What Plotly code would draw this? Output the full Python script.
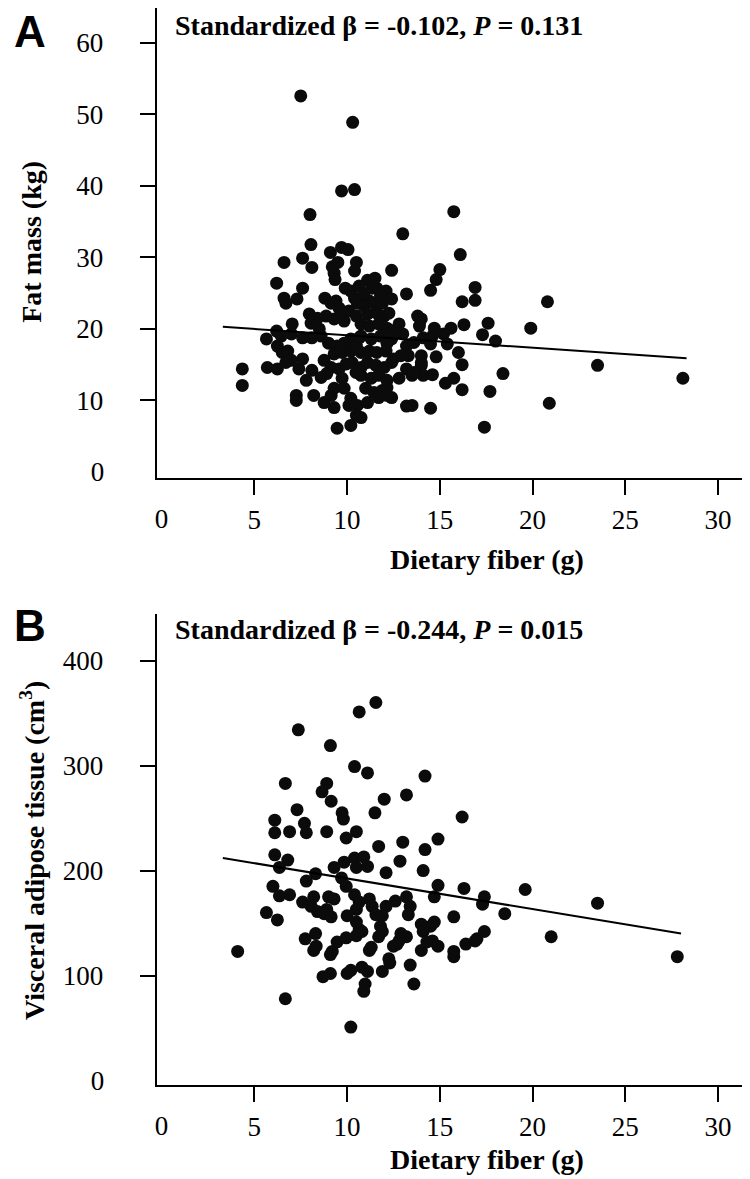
import plotly.graph_objects as go

# ---------------- Panel A data: dietary fiber (g) vs fat mass (kg) ----------------
fiber_a = [
    7.5, 10.3, 9.7, 10.4, 8.0, 15.75, 13.0, 8.05, 9.1, 9.7, 10.05, 16.1, 6.6, 7.6, 8.1,
    9.2, 9.5, 9.3, 9.35, 10.5, 10.4, 12.4, 15.0, 14.8, 6.2, 7.6, 6.6, 7.3, 6.7, 8.8,
    9.4, 9.9, 10.2, 11.1, 11.5, 11.6, 12.1, 12.4, 13.2, 14.5, 16.2, 10.4, 10.8, 11.2, 11.9,
    16.9, 16.9, 20.8, 19.9, 17.6, 17.3, 18.0, 16.3, 15.6, 15.2, 14.7, 13.8, 14.0, 13.9, 14.1,
    14.5, 14.6, 15.4, 16.0, 14.8, 14.0, 14.0, 16.2, 18.4, 23.5, 28.1, 15.75, 15.3, 16.2, 17.7,
    13.5, 14.1, 14.6, 13.5, 14.5, 20.9, 17.4, 12.7, 13.0, 12.4, 13.2, 13.6, 13.3, 14.0, 12.8,
    13.2, 13.6, 12.15, 11.8, 12.4, 13.2, 10.55, 10.75, 9.14, 9.57, 7.96, 8.4, 8.87, 9.3, 9.68,
    9.84, 10.1, 10.5, 10.75, 7.04, 8.06, 8.5, 6.2, 5.65, 6.45, 7.0, 7.6, 8.1, 8.6, 6.24,
    6.5, 6.8, 7.0, 7.6, 6.7, 9.0, 9.46, 9.84, 10.2, 9.3, 9.73, 10.2, 10.5, 10.75, 10.65,
    8.76, 9.14, 9.57, 9.95, 10.27, 10.48, 10.75, 4.35, 4.35, 5.7, 6.24, 7.4, 8.1, 8.6, 8.9,
    7.8, 7.26, 7.26, 8.2, 8.76, 9.14, 9.3, 9.84, 10.2, 10.1, 10.5, 10.2, 9.46, 9.3, 9.73,
    10.55, 10.9, 11.45, 11.1, 11.6, 12.0, 11.2, 11.7, 12.15, 12.5, 10.75, 11.3, 11.8, 12.15, 11.2,
    11.6, 12.1, 12.5, 12.9, 11.1, 11.55, 12.0, 12.4, 10.75, 11.3, 11.7, 12.15, 11.0, 11.45, 11.9,
    11.7, 12.15, 11.1, 10.65, 10.9, 11.35, 11.8, 12.25, 12.8,
]
fat_mass = [
    52.6, 48.9, 39.3, 39.5, 36.0, 36.4, 33.3, 31.8, 30.7, 31.4, 31.1, 30.4, 29.3, 29.9, 28.6,
    28.7, 29.3, 27.8, 26.9, 29.3, 28.1, 28.2, 28.3, 26.9, 26.4, 25.7, 24.3, 24.2, 23.6, 24.3,
    23.9, 25.7, 25.3, 26.8, 27.1, 25.7, 25.3, 24.2, 24.9, 25.4, 23.8, 24.3, 24.2, 23.9, 23.6,
    25.8, 24.0, 23.8, 20.1, 20.8, 19.2, 18.3, 20.6, 20.1, 19.3, 20.1, 21.8, 21.4, 20.4, 18.75,
    17.9, 19.0, 17.9, 16.7, 16.1, 16.25, 14.9, 15.0, 13.75, 14.9, 13.1, 13.1, 12.4, 11.5, 11.25,
    13.5, 13.5, 13.6, 9.3, 8.9, 9.6, 6.25, 20.0, 19.3, 18.6, 17.6, 18.1, 16.25, 15.3, 13.1,
    14.4, 13.9, 11.8, 10.7, 10.4, 9.2, 9.3, 7.6, 23.6, 22.9, 22.1, 21.5, 21.8, 21.4, 22.1,
    21.1, 22.5, 21.8, 20.7, 20.7, 20.8, 20.0, 19.7, 18.6, 19.0, 19.3, 18.75, 18.75, 19.0, 17.6,
    16.7, 16.9, 15.6, 15.8, 15.3, 18.0, 17.6, 18.0, 18.6, 16.5, 16.7, 16.9, 17.6, 16.7, 18.75,
    15.6, 14.6, 14.4, 15.1, 15.3, 13.9, 14.6, 14.4, 12.1, 14.6, 14.4, 14.4, 14.2, 13.2, 13.75,
    12.8, 10.7, 10.0, 10.7, 9.7, 10.7, 9.0, 11.7, 10.3, 9.3, 7.9, 6.5, 6.1, 11.7, 13.1,
    23.6, 23.2, 23.6, 22.1, 22.2, 21.8, 20.4, 20.7, 20.1, 19.4, 19.0, 18.6, 19.0, 18.0, 16.9,
    16.7, 16.9, 15.8, 16.25, 15.3, 14.9, 14.6, 15.3, 13.5, 13.1, 13.5, 12.8, 11.7, 11.1, 11.4,
    10.4, 10.7, 9.7, 26.0, 25.0, 25.7, 24.6, 22.2, 20.7,
]
fit_a_x = [3.3, 28.3]
fit_a_y = [20.3, 15.9]

# ---------------- Panel B data: dietary fiber (g) vs visceral adipose tissue (cm3) ----------------
fiber_b = [
    11.55, 10.65, 10.4, 11.1, 14.2, 12.0, 13.2, 11.5, 16.2, 10.5, 14.9, 13.0, 11.7, 14.2, 12.85,
    14.1, 12.1, 10.4, 10.9, 11.1, 10.5, 14.9, 16.3, 17.4, 17.3, 18.5, 19.6, 15.75, 14.7, 13.2,
    13.4, 13.3, 12.6, 12.1, 11.9, 14.0, 14.5, 14.7, 14.1, 17.4, 17.0, 15.75, 16.4, 12.9, 13.2,
    12.7, 14.6, 14.9, 10.65, 10.5, 10.8, 11.8, 11.9, 11.7, 11.2, 12.25, 14.0, 10.4, 10.65, 10.5,
    11.2, 11.35, 11.55, 7.37, 9.1, 6.67, 8.9, 8.65, 9.14, 7.3, 9.73, 9.8, 6.1, 6.1, 6.9,
    7.7, 7.8, 8.9, 9.95, 6.1, 6.8, 6.35, 7.8, 8.3, 9.3, 9.84, 9.7, 6.0, 6.35, 6.9,
    5.65, 6.24, 7.6, 8.2, 8.06, 8.4, 8.76, 9.0, 9.3, 8.9, 9.14, 10.0, 9.95, 10.5, 7.74,
    8.3, 8.33, 8.2, 9.2, 9.46, 9.95, 4.1, 6.67, 10.2, 27.8, 21.0, 23.5, 8.7, 9.1, 10.0,
    10.2, 10.8, 11.1, 10.97, 10.9, 11.9, 12.3, 13.4, 13.6, 9.1, 11.3, 12.5, 12.8, 14.3, 15.75,
    16.9,
]
vat = [
    360, 351, 299, 293, 290, 268, 272, 255, 251, 237, 230, 227, 223, 220, 209,
    200, 198, 212, 213, 204, 203, 186, 183, 175, 168, 159, 182, 156, 175, 175,
    166, 158, 171, 166, 157, 149, 147, 151, 142, 142, 135, 123, 130, 140, 137,
    130, 133, 128, 144, 138, 142, 147, 142, 137, 124, 116, 124, 177, 170, 163,
    173, 166, 158, 334, 319, 283, 283, 275, 266, 258, 255, 249, 248, 236, 237,
    245, 236, 237, 231, 215, 210, 203, 190, 197, 203, 208, 193, 185, 176, 177,
    160, 153, 170, 175, 166, 161, 159, 175, 173, 163, 156, 157, 185, 151, 135,
    140, 128, 124, 123, 132, 136, 123, 78, 51, 118, 137, 169, 99, 102, 102,
    105, 108, 104, 92, 85, 104, 112, 110, 92, 120, 127, 128, 133, 132, 118,
    133,
]
fit_b_x = [3.3, 28.0]
fit_b_y = [212, 140]

# tick marks are drawn at these values; the origin label "0" has no tick mark
x_ticks = [5, 10, 15, 20, 25, 30]
ya_ticks = [10, 20, 30, 40, 50, 60]
yb_ticks = [100, 200, 300, 400]
origin_label = [0]

# ---------------- Figure ----------------
W, H = 750, 1179
SERIF = "Liberation Serif, Times New Roman, serif"
SANS = "Liberation Sans, Arial, sans-serif"
black = "#000000"
X_RANGE = [-0.27, 32.15]
YA_RANGE = [-0.8, 64.9]
YB_RANGE = [-4.0, 444]

fig = go.Figure()
marker = dict(size=13, color="#0b0b0b", line=dict(width=0))
fig.add_trace(go.Scatter(x=fiber_a, y=fat_mass, mode="markers", marker=marker,
                         xaxis="x", yaxis="y", showlegend=False))
fig.add_trace(go.Scatter(x=fit_a_x, y=fit_a_y, mode="lines", line=dict(color=black, width=2),
                         xaxis="x", yaxis="y", showlegend=False))
fig.add_trace(go.Scatter(x=fiber_b, y=vat, mode="markers", marker=marker,
                         xaxis="x2", yaxis="y2", showlegend=False))
fig.add_trace(go.Scatter(x=fit_b_x, y=fit_b_y, mode="lines", line=dict(color=black, width=2),
                         xaxis="x2", yaxis="y2", showlegend=False))
# empty traces so the overlay axes (which only carry the "0" labels) are drawn
for xa, ya in [("x3", "y"), ("x", "y3"), ("x4", "y2"), ("x2", "y4")]:
    fig.add_trace(go.Scatter(x=[], y=[], mode="markers", xaxis=xa, yaxis=ya,
                             showlegend=False, hoverinfo="skip"))


def px_x(p):
    return p / W


def px_y(p):
    return 1 - p / H


x_dom = [px_x(147), 1.0]
ya_dom = [px_y(474), px_y(0)]
yb_dom = [px_y(1087), px_y(612)]

TICKLEN = 15
X_STANDOFF = 2
Y_STANDOFF = 31
tick_font = dict(family=SERIF, size=27, color=black)


def x_axis(vals, color=black, line=True, **kw):
    return dict(
        range=X_RANGE, tickvals=vals, ticktext=[str(v) for v in vals],
        showline=line, linecolor=black, linewidth=2, ticks="outside", ticklen=TICKLEN,
        tickwidth=2, tickcolor=color, showgrid=False, zeroline=False,
        tickfont=tick_font, ticklabelstandoff=X_STANDOFF, **kw,
    )


def y_axis(vals, rng, color=black, line=True, **kw):
    return dict(
        range=rng, tickvals=vals, ticktext=[str(v) for v in vals],
        showline=line, linecolor=black, linewidth=2, ticks="outside", ticklen=TICKLEN,
        tickwidth=2, tickcolor=color, showgrid=False, zeroline=False,
        tickfont=tick_font, ticklabelstandoff=Y_STANDOFF, **kw,
    )


clear = "rgba(0,0,0,0)"
fig.update_layout(
    width=W, height=H,
    margin=dict(l=0, r=0, t=0, b=0),
    paper_bgcolor="white", plot_bgcolor="white",
    xaxis=x_axis(x_ticks, domain=x_dom, anchor="y"),
    yaxis=y_axis(ya_ticks, YA_RANGE, domain=ya_dom, anchor="x"),
    xaxis2=x_axis(x_ticks, domain=x_dom, anchor="y2"),
    yaxis2=y_axis(yb_ticks, YB_RANGE, domain=yb_dom, anchor="x2"),
    xaxis3=x_axis(origin_label, color=clear, line=False, overlaying="x", anchor="y"),
    yaxis3=y_axis(origin_label, YA_RANGE, color=clear, line=False, overlaying="y", anchor="x"),
    xaxis4=x_axis(origin_label, color=clear, line=False, overlaying="x2", anchor="y2"),
    yaxis4=y_axis(origin_label, YB_RANGE, color=clear, line=False, overlaying="y2", anchor="x2"),
)

title_font = dict(family=SERIF, size=28, color=black)
stat_font = dict(family=SERIF, size=28, color=black)
letter_font = dict(family=SANS, size=44, color=black)
annotations = [
    dict(text="<b>A</b>", x=px_x(2), y=px_y(24), xanchor="left", yanchor="middle", font=letter_font),
    dict(text="<b>Standardized β = -0.102, <i>P</i> = 0.131</b>", x=px_x(163), y=px_y(18),
         xanchor="left", yanchor="middle", font=stat_font),
    dict(text="<b>Fat mass (kg)</b>", x=px_x(22), y=px_y(236), textangle=-90,
         xanchor="center", yanchor="middle", font=title_font),
    dict(text="<b>Dietary fiber (g)</b>", x=px_x(478), y=px_y(557),
         xanchor="center", yanchor="middle", font=title_font),
    dict(text="<b>B</b>", x=px_x(2), y=px_y(623), xanchor="left", yanchor="middle", font=letter_font),
    dict(text="<b>Standardized β = -0.244, <i>P</i> = 0.015</b>", x=px_x(163), y=px_y(627),
         xanchor="left", yanchor="middle", font=stat_font),
    dict(text="<b>Visceral adipose tissue (cm<sup>3</sup>)</b>", x=px_x(22), y=px_y(850),
         textangle=-90, xanchor="center", yanchor="middle", font=title_font),
    dict(text="<b>Dietary fiber (g)</b>", x=px_x(478), y=px_y(1162),
         xanchor="center", yanchor="middle", font=title_font),
]
for a in annotations:
    a.update(xref="paper", yref="paper", showarrow=False)
fig.update_layout(annotations=annotations)

fig.write_html("out.html")
